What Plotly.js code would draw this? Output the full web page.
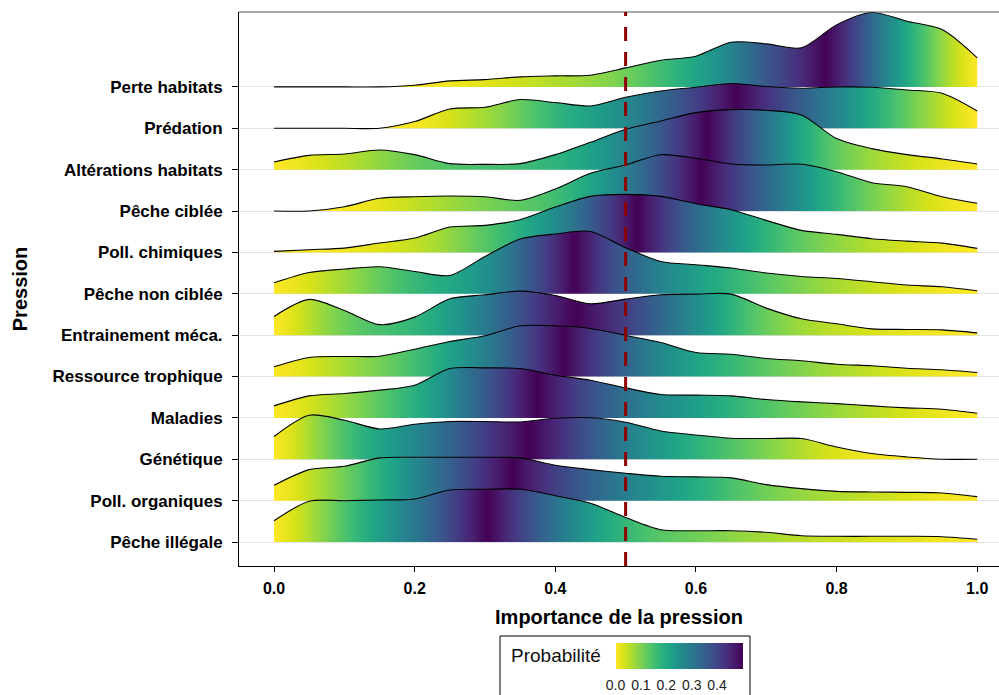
<!DOCTYPE html>
<html><head><meta charset="utf-8">
<script src="https://cdn.plot.ly/plotly-3.0.1.min.js"></script>
<style>html,body{margin:0;padding:0;background:#fff}#chart{width:999px;height:695px}</style>
</head><body><div id="chart"></div>
<script>
// ---- Données ----
const xGrid = [0,0.05,0.1,0.15,0.2,0.25,0.3,0.35,0.4,0.45,0.5,0.55,0.6,0.65,0.7,0.75,0.8,0.85,0.9,0.95,1.0];
// pressions, du bas vers le haut
const pressions = ["Pêche illégale","Poll. organiques","Génétique","Maladies","Ressource trophique","Entrainement méca.","Pêche non ciblée","Poll. chimiques","Pêche ciblée","Altérations habitats","Prédation","Perte habitats"];
// densités relatives aux points de xGrid
const pecheIllegale   = [21.3,40.7,41.3,42,43,52,52.7,52.7,46.3,38.7,24.5,12.3,11.3,11.3,9.7,6.3,5.7,5.7,5.7,5.3,2.7];
const pollOrganiques  = [15.3,31,34.3,42.7,43.3,43.3,43.3,42.7,35.3,31,27.3,24.3,23.7,22.7,16,12,9.3,8.7,8.3,7.7,4];
const genetique       = [22.7,44,39,30.3,35,37.7,37.7,37.3,41,41.5,37,28.3,24.3,21,20.7,20.7,12.3,5.7,2.3,0,0];
const maladies        = [12,22,24.3,27.7,32.7,49.3,50,49.3,42.7,37.7,30,23.3,22.7,22,18.3,16,14.3,12,10,8.7,4.7];
const ressource       = [9.7,19,20,20.3,27.3,35,40.7,50.7,50.7,48,41,34,24,22.3,18,15.7,12.3,10.7,8.3,6.7,4];
const entrainement    = [18.7,35.7,24.7,10.5,18,36.3,40.3,44,39.7,31.3,36,40.3,41,41,27,16.3,11.3,6.3,5.7,5.3,2.3];
const pecheNonCiblee  = [11,21.3,24.7,27,22.3,18.3,37.3,54.7,59.7,62.3,46,32.3,29,25.7,20.7,17.3,15.3,12,8.7,7,3];
const pollChimiques   = [1,2.7,4.3,9.3,14.3,25.3,27,32.7,45.3,56,58,56,48.7,42.7,32,22,18,13.7,11.3,9.3,4];
const pecheCiblee     = [0,0,4.3,12.7,14.3,15,14.3,10.7,22,37.7,46,56.3,52.7,47,46,46.7,39.3,28.3,24.3,14.3,7.7];
const alterations     = [7.7,14.3,15.7,19.7,15,6,5.3,6,15,27.3,40.3,48.7,57,60,59.3,54.7,31,21,15,10.7,5.7];
const predation       = [0,0,0,0,6.7,19.3,21,28.7,25.7,22.3,31,37.3,41,44.7,41.7,40,41.3,41,38.3,35,17.3];
const perteHabitats   = [0,0,0,0,1.7,6,7.3,10,11,11.7,19,26.7,30.7,44.7,43,39,62,74.3,65.7,57.3,29];
const densites = [pecheIllegale,pollOrganiques,genetique,maladies,ressource,entrainement,pecheNonCiblee,pollChimiques,pecheCiblee,alterations,predation,perteHabitats];
const xTicks = [0,0.2,0.4,0.6,0.8,1.0];
const probTicks = [0,0.1,0.2,0.3,0.4];
const seuil = 0.5;

// ---- Couleurs viridis ----
const viridis = [[0,'#440154'],[0.0627,'#48186a'],[0.1255,'#472d7b'],[0.1882,'#424086'],[0.2510,'#3b528b'],[0.3137,'#33638d'],[0.3765,'#2c728e'],[0.4392,'#26828e'],[0.5020,'#21918c'],[0.5647,'#1fa088'],[0.6275,'#28ae80'],[0.6902,'#3fbc73'],[0.7529,'#5ec962'],[0.8157,'#84d44b'],[0.8784,'#addc30'],[0.9412,'#d8e219'],[1,'#fde725']];
function hex2rgb(h){return [parseInt(h.substr(1,2),16),parseInt(h.substr(3,2),16),parseInt(h.substr(5,2),16)];}
function viridisAt(t){
  t=Math.max(0,Math.min(1,t));
  for(let i=1;i<viridis.length;i++){
    if(t<=viridis[i][0]){
      const a=viridis[i-1],b=viridis[i];const f=(t-a[0])/(b[0]-a[0]);
      const ca=hex2rgb(a[1]),cb=hex2rgb(b[1]);
      return 'rgb('+ca.map((v,k)=>Math.round(v+(cb[k]-v)*f)).join(',')+')';
    }
  }
  return viridis[viridis.length-1][1];
}
// probabilité de queue (0.5 - |0.5 - F(x)|) pour la couleur de remplissage
function gradientFor(d){
  const N=200;
  function dens(x){
    const s=x/0.05; const i=Math.min(Math.floor(s),xGrid.length-2); const f=s-i;
    return d[i]+(d[i+1]-d[i])*f;
  }
  let cum=[0];
  for(let k=1;k<=N;k++){const a=dens((k-1)/N),b=dens(k/N);cum.push(cum[k-1]+(a+b)/2);}
  const tot=cum[N];
  const scale=[];
  for(let k=0;k<=N;k++){
    const F=cum[k]/tot; const tail=0.5-Math.abs(0.5-F);
    scale.push([k/N, viridisAt(1-tail/0.5)]);
  }
  return scale;
}

const pxParUnite = 41.36;
const FONT='Liberation Sans, Arial, sans-serif';
const traces=[];
for(let i=densites.length-1;i>=0;i--){
  const pos=i+1;
  traces.push({type:'scatter',x:[0,1],y:[pos,pos],mode:'lines',line:{width:0,color:'rgba(0,0,0,0)'},hoverinfo:'skip',showlegend:false});
  traces.push({type:'scatter',x:xGrid,y:densites[i].map(v=>pos+v/pxParUnite),mode:'lines',
    line:{color:'black',width:1.1,shape:'spline',smoothing:0.8},
    fill:'tonexty',fillcolor:'#21918c',
    fillgradient:{type:'horizontal',colorscale:gradientFor(densites[i]),start:0,stop:1},
    name:pressions[i],showlegend:false});
}
// trace fictive pour la barre de couleurs
traces.push({type:'scatter',x:[0.5],y:[6],mode:'markers',hoverinfo:'skip',showlegend:false,
  marker:{size:1,opacity:0,color:[0],cmin:0,cmax:0.5,colorscale:'Viridis',reversescale:true,showscale:true,
    colorbar:{orientation:'h',x:(679-239)/760,xanchor:'center',y:(566-643)/554,yanchor:'top',
      len:127,lenmode:'pixels',thickness:26,thicknessmode:'pixels',outlinewidth:0,xpad:0,ypad:0,
      tickvals:probTicks,ticktext:probTicks.map(v=>v.toFixed(1)),ticks:'outside',ticklen:5,tickcolor:'rgba(0,0,0,0)',
      tickfont:{size:14,color:'#222',family:FONT},title:{text:''}}}});

const layout={
  width:999,height:695,
  margin:{l:239,r:0,t:12,b:129},
  paper_bgcolor:'white',plot_bgcolor:'white',showlegend:false,
  font:{family:FONT,color:'black'},
  xaxis:{range:[-0.0498,1.031],tickvals:xTicks,ticktext:xTicks.map(v=>'<b>'+v.toFixed(1)+'</b>'),
    showgrid:false,zeroline:false,showline:true,linecolor:'black',linewidth:1,
    ticks:'outside',ticklen:5,tickcolor:'black',ticklabelstandoff:3,tickfont:{size:16,color:'black'},
    title:{text:'<b>Importance de la pression</b>',font:{size:20,color:'black'},standoff:13}},
  yaxis:{range:[0.42,13.81],tickvals:pressions.map((p,i)=>i+1),ticktext:pressions.map(p=>'<b>'+p+'</b>'),
    showgrid:true,gridcolor:'#e2e2e2',gridwidth:1,zeroline:false,showline:true,linecolor:'black',linewidth:1,
    ticks:'outside',ticklen:6,tickcolor:'black',ticklabelstandoff:6,tickfont:{size:17,color:'black'},
    title:{text:'<b>Pression</b>',font:{size:20,color:'black'},standoff:19}},
  shapes:[
    {type:'line',xref:'paper',yref:'paper',x0:0,x1:1,y0:1,y1:1,line:{color:'#555',width:1}},
    {type:'line',xref:'x',yref:'paper',x0:seuil,x1:seuil,y0:0,y1:1,line:{color:'#8B0000',width:3,dash:'14px,11px'}},
    {type:'rect',xref:'paper',yref:'paper',x0:(500-239)/760,x1:(750-239)/760,y0:(566-636)/554,y1:(566-720)/554,line:{color:'black',width:1},fillcolor:'rgba(0,0,0,0)'}
  ],
  annotations:[
    {xref:'paper',yref:'paper',x:(509-239)/760,y:(566-655)/554,xanchor:'left',yanchor:'middle',showarrow:false,
     text:'Probabilité',font:{size:19,color:'#111'}}
  ]
};
Plotly.newPlot('chart',traces,layout,{displayModeBar:false,staticPlot:true});
</script></body></html>
